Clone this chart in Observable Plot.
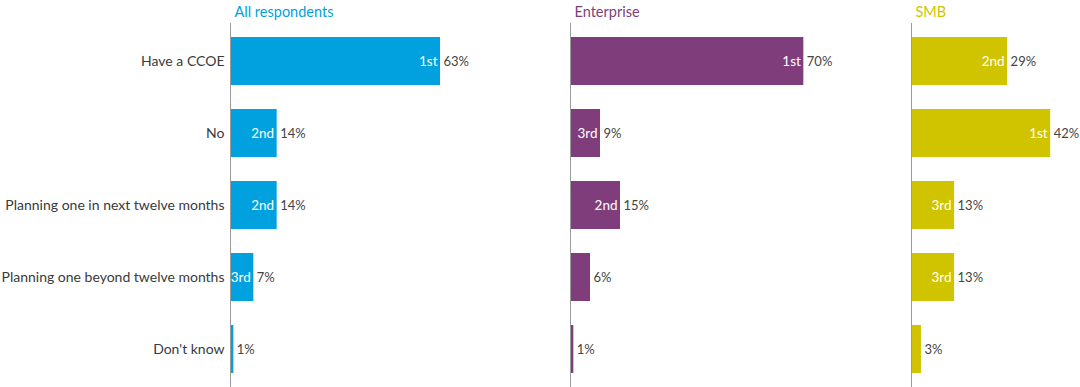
<!DOCTYPE html>
<html>
<head>
<meta charset="utf-8">
<script src="https://cdn.jsdelivr.net/npm/d3@7"></script>
<script src="https://cdn.jsdelivr.net/npm/@observablehq/plot@0.6"></script>
<style>
  html, body { margin: 0; padding: 0; background: #fff; }
  #chart { display: flex; flex-direction: row; width: 1080px; height: 387px; }
  #chart svg { overflow: visible; }
</style>
</head>
<body>
<div id="chart"></div>
<script>
const categories = ["Have a CCOE", "No", "Planning one in next twelve months", "Planning one beyond twelve months", "Don't know"];
const panelTitles = ["All respondents", "Enterprise", "SMB"];
const panelColors = ["#00a1de", "#7f3e7b", "#d0c400"];
const allValues = [63, 14, 14, 7, 1];
const allRanks = ["1st", "2nd", "2nd", "3rd", ""];
const entValues = [70, 9, 15, 6, 1];
const entRanks = ["1st", "3rd", "2nd", "", ""];
const smbValues = [29, 42, 13, 13, 3];
const smbRanks = ["2nd", "1st", "3rd", "3rd", ""];

const panels = [
  {values: allValues, ranks: allRanks, width: 570, marginLeft: 230, xMax: 102, showY: true},
  {values: entValues, ranks: entRanks, width: 341, marginLeft: 0, xMax: 102.3, showY: false},
  {values: smbValues, ranks: smbRanks, width: 169, marginLeft: 0, xMax: 51, showY: false}
];

const container = document.getElementById("chart");
panels.forEach((p, i) => {
  const data = categories.map((c, j) => ({category: c, value: p.values[j], rank: p.ranks[j]}));
  const color = panelColors[i];
  const svg = Plot.plot({
    width: p.width,
    height: 387,
    marginLeft: p.marginLeft,
    marginRight: 0,
    marginTop: 23,
    marginBottom: 0,
    style: {fontFamily: "Lato, sans-serif", fontSize: "14px", color: "#3a3a3a", background: "#fff"},
    x: {domain: [0, p.xMax], axis: null},
    y: {domain: categories, paddingInner: 0.34, paddingOuter: 0.17, axis: p.showY ? "left" : null, tickSize: 0, tickPadding: 6, label: null},
    marks: [
      Plot.barX(data, {x: "value", y: "category", fill: color}),
      Plot.ruleX([0], {stroke: "#9a9a9a", strokeWidth: 1}),
      Plot.text(data.filter(d => d.rank), {x: "value", y: "category", text: "rank", textAnchor: "end", dx: -3, fill: "white", fontSize: 13.5}),
      Plot.text(data, {x: "value", y: "category", text: d => d.value + "%", textAnchor: "start", dx: 3, fill: "#444", fontSize: 13}),
      Plot.text([panelTitles[i]], {frameAnchor: "top-left", textAnchor: "start", dx: 4, dy: -17, fill: color, fontSize: 14.5})
    ]
  });
  container.appendChild(svg);
});
</script>
</body>
</html>
